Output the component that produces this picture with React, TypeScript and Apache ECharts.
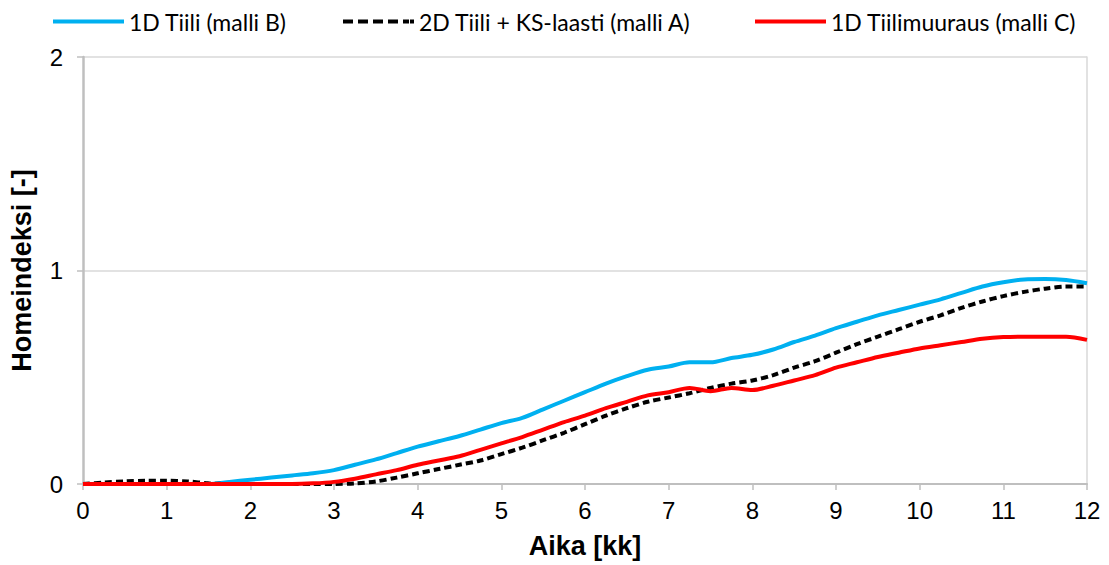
import React, { useEffect, useRef } from "react";
import * as echarts from "echarts";

const months = [
  0, 0.25, 0.5, 0.75, 1, 1.25, 1.5, 1.75, 2, 2.25, 2.5, 2.75, 3, 3.25, 3.5, 3.75, 4, 4.25, 4.5, 4.75, 5,
  5.25, 5.5, 5.75, 6, 6.25, 6.5, 6.75, 7, 7.25, 7.5, 7.75, 8, 8.25, 8.5, 8.75, 9, 9.25, 9.5, 9.75, 10,
  10.25, 10.5, 10.75, 11, 11.25, 11.5, 11.75, 12,
];

const tiiliB = [
  0, 0, 0, 0, 0, 0, 0, 0.01, 0.02, 0.03, 0.04, 0.05, 0.065, 0.09, 0.115, 0.145, 0.175, 0.2, 0.225, 0.255, 0.285,
  0.31, 0.35, 0.39, 0.43, 0.47, 0.505, 0.535, 0.55, 0.57, 0.57, 0.59, 0.605, 0.63, 0.665, 0.695, 0.73, 0.76, 0.79, 0.815, 0.84,
  0.865, 0.895, 0.925, 0.945, 0.958, 0.96, 0.955, 0.94,
];

const tiili2dA = [
  0, 0.007, 0.012, 0.015, 0.015, 0.012, 0.003, 0, 0, 0, 0, 0, 0, 0.003, 0.012, 0.03, 0.05, 0.07, 0.09, 0.11, 0.14,
  0.17, 0.205, 0.24, 0.28, 0.32, 0.355, 0.385, 0.405, 0.425, 0.45, 0.47, 0.485, 0.51, 0.545, 0.575, 0.615, 0.655, 0.69, 0.725, 0.76,
  0.79, 0.825, 0.855, 0.88, 0.9, 0.915, 0.925, 0.925,
];

const muurausC = [
  0, 0, 0, 0, 0, 0, 0, 0, 0, 0, 0, 0.003, 0.01, 0.025, 0.045, 0.065, 0.09, 0.11, 0.13, 0.16, 0.19,
  0.22, 0.255, 0.29, 0.32, 0.355, 0.385, 0.415, 0.43, 0.45, 0.435, 0.45, 0.44, 0.46, 0.485, 0.51, 0.545, 0.57, 0.595, 0.615, 0.635,
  0.65, 0.665, 0.68, 0.688, 0.69, 0.69, 0.69, 0.675,
];

const seriesNames = ["1D Tiili (malli B)", "2D Tiili + KS-laasti (malli A)", "1D Tiilimuuraus (malli C)"];
const xTicks = [0, 12, 1];
const yTicks = [0, 2, 1];

const pair = (ys: number[]) => months.map((m, i) => [m, ys[i]]);

const solidIcon = "path://M0,0h71v4h-71z";
const dashedIcon = "path://M0,0h10v4h-10z M15,0h10v4h-10z M30,0h10v4h-10z M45,0h10v4h-10z M60,0h6v4h-6z M67,0h4v4h-4z";

export default function App() {
  const ref = useRef<HTMLDivElement>(null);
  useEffect(() => {
    if (!ref.current) return;
    const chart = echarts.init(ref.current, null, { renderer: "svg" });
    const legendText = { fontFamily: "Lato, 'Open Sans', sans-serif", fontSize: 23, color: "#000" };
    const legendBase = {
      top: 5,
      itemWidth: 71,
      itemHeight: 4,
      itemGap: 6,
      symbolKeepAspect: false,
      textStyle: legendText,
      selectedMode: false,
    };
    chart.setOption({
      animation: false,
      backgroundColor: "#fff",
      legend: [
        { ...legendBase, left: 48, data: [{ name: seriesNames[0], icon: solidIcon }] },
        { ...legendBase, left: 338, data: [{ name: seriesNames[1], icon: dashedIcon }] },
        { ...legendBase, left: 750, data: [{ name: seriesNames[2], icon: solidIcon }] },
      ],
      grid: { left: 83, right: 22, top: 57, bottom: 81 },
      xAxis: {
        type: "value",
        min: xTicks[0],
        max: xTicks[1],
        interval: xTicks[2],
        name: "Aika [kk]",
        nameLocation: "middle",
        nameGap: 48,
        nameTextStyle: { fontFamily: "Arial, 'Liberation Sans', sans-serif", fontWeight: "bold", fontSize: 27, color: "#000" },
        axisLine: { show: true, lineStyle: { color: "#bfbfbf", width: 2 } },
        axisTick: { show: true, length: 6, lineStyle: { color: "#bfbfbf", width: 1.5 } },
        axisLabel: { fontFamily: "Arial, 'Liberation Sans', sans-serif", fontSize: 24, color: "#000", margin: 14 },
        splitLine: { show: false },
      },
      yAxis: [
        {
          type: "value",
          min: yTicks[0],
          max: yTicks[1],
          interval: yTicks[2],
          name: "Homeindeksi [-]",
          nameLocation: "middle",
          nameGap: 48,
          nameTextStyle: { fontFamily: "Arial, 'Liberation Sans', sans-serif", fontWeight: "bold", fontSize: 27, color: "#000" },
          axisLine: { show: true, lineStyle: { color: "#bfbfbf", width: 2.5 } },
          axisTick: { show: true, length: 6, lineStyle: { color: "#bfbfbf", width: 1.5 } },
          axisLabel: { fontFamily: "Arial, 'Liberation Sans', sans-serif", fontSize: 24, color: "#000", margin: 20 },
          splitLine: { show: true, lineStyle: { color: "#d9d9d9", width: 1.5 } },
        },
        {
          type: "value",
          position: "right",
          min: yTicks[0],
          max: yTicks[1],
          interval: yTicks[2],
          axisLine: { show: true, lineStyle: { color: "#d9d9d9", width: 1.5 } },
          axisTick: { show: false },
          axisLabel: { show: false },
          splitLine: { show: false },
        },
      ],
      series: [
        {
          name: seriesNames[1],
          type: "line",
          data: pair(tiili2dA),
          symbol: "none",
          smooth: 0.3,
          z: 3,
          color: "#000",
          lineStyle: { color: "#000", width: 4, type: [7, 4] },
        },
        {
          name: seriesNames[0],
          type: "line",
          data: pair(tiiliB),
          symbol: "none",
          smooth: 0.3,
          z: 2,
          color: "#00b0f0",
          lineStyle: { color: "#00b0f0", width: 4 },
        },
        {
          name: seriesNames[2],
          type: "line",
          data: pair(muurausC),
          symbol: "none",
          smooth: 0.3,
          z: 4,
          color: "#ff0000",
          lineStyle: { color: "#ff0000", width: 4 },
        },
      ],
    });
    return () => chart.dispose();
  }, []);
  return <div ref={ref} style={{ position: "fixed", left: 0, top: 0, width: 1109, height: 565 }} />;
}
